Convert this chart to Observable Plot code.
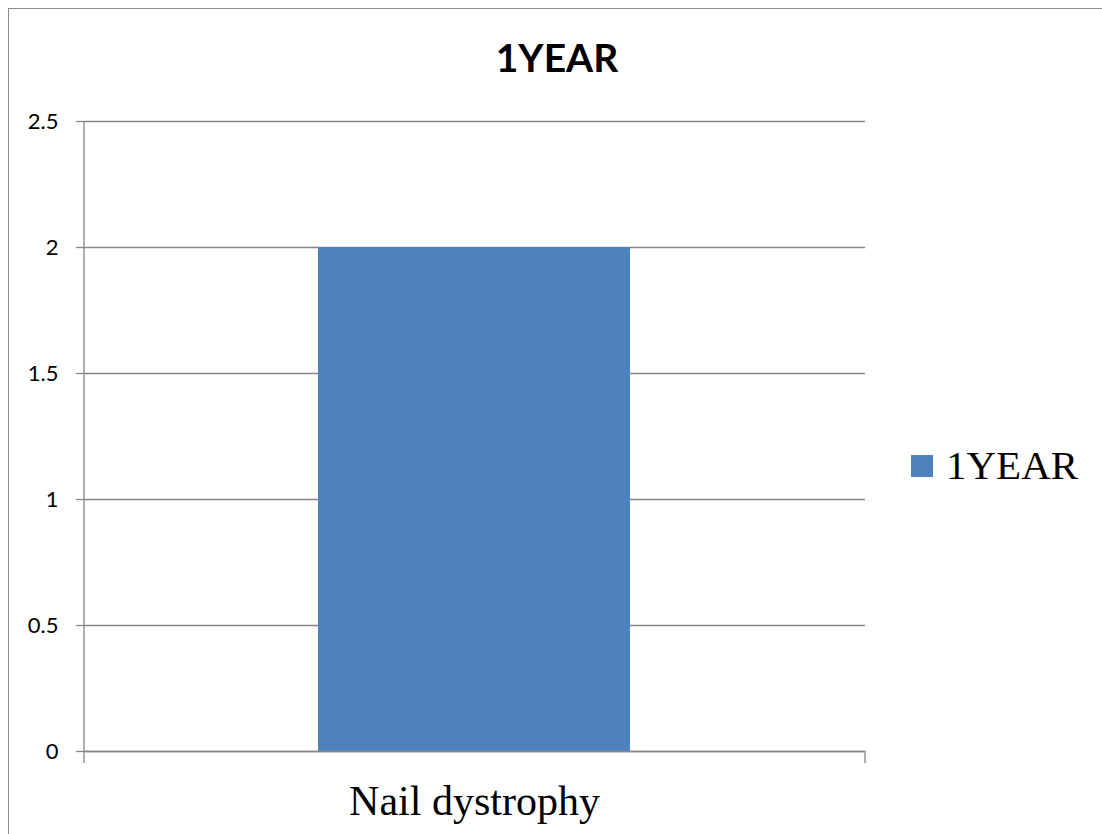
<!DOCTYPE html>
<html>
<head>
<meta charset="utf-8">
<script src="https://cdn.jsdelivr.net/npm/d3@7"></script>
<script src="https://cdn.jsdelivr.net/npm/@observablehq/plot@0.6"></script>
<style>
  html, body { margin: 0; padding: 0; background: #fff; }
  #wrap { position: relative; width: 1102px; height: 834px; overflow: hidden; background: #fff; }
  #border { position: absolute; left: 8px; top: 8px; right: -4px; bottom: -4px;
            border-left: 1.4px solid #8c8c8c; border-top: 1.4px solid #8c8c8c; }
  #title { position: absolute; left: 457px; width: 200px; top: 38px; text-align: center;
           font: bold 39px/39px Lato, "Liberation Sans", sans-serif; color: #000; }
  #legend { position: absolute; left: 911px; top: 445px; display: flex; align-items: center; gap: 13px;
            font: 41px/41px "Liberation Serif", "Times New Roman", serif; color: #000; }
  #legend .sw { width: 22px; height: 22px; }
  #chart { position: absolute; left: 0; top: 0; }
</style>
</head>
<body>
<div id="wrap">
  <div id="border"></div>
  <div id="chart"></div>
  <div id="title"></div>
  <div id="legend"></div>
</div>
<script>
// Chart data
const categories = ["Nail dystrophy"];
const values = [2];
const seriesName = "1YEAR";
const yTicks = [0, 0.5, 1, 1.5, 2, 2.5];

const barColor = "#4F81BD";
const lineColor = "#868686";
const lineWidth = 1.3;

const rows = categories.map((c, i) => ({category: c, value: values[i]}));

// Axis line on the left and category-boundary ticks below the baseline
function categoryFrame(index, scales, channels, dims) {
  const left = dims.marginLeft;
  const right = dims.width - dims.marginRight;
  const top = dims.marginTop;
  const bottom = dims.height - dims.marginBottom;
  const tick = 12;
  const g = d3.create("svg:g")
    .attr("stroke", lineColor)
    .attr("stroke-width", lineWidth);
  g.append("line").attr("x1", left).attr("x2", left).attr("y1", top).attr("y2", bottom + tick);
  g.append("line").attr("x1", right).attr("x2", right).attr("y1", bottom).attr("y2", bottom + tick);
  return g.node();
}

const chart = Plot.plot({
  width: 1102,
  height: 834,
  marginTop: 121,
  marginLeft: 84,
  marginRight: 237,
  marginBottom: 83,
  x: {domain: categories, paddingInner: 0.6, paddingOuter: 0.3, label: null},
  y: {domain: [0, 2.5], label: null},
  marks: [
    Plot.gridY(yTicks, {stroke: lineColor, strokeOpacity: 1, strokeWidth: lineWidth}),
    Plot.barY(rows, {x: "category", y: "value", fill: barColor}),
    Plot.ruleY([0], {stroke: lineColor, strokeWidth: lineWidth}),
    Plot.axisY({
      ticks: yTicks, tickSize: 8, tickPadding: 18, tickFormat: d3.format(""),
      stroke: lineColor, strokeWidth: lineWidth, strokeOpacity: 1,
      fill: "#000", fontSize: 22, fontFamily: "Lato, 'Liberation Sans', sans-serif", label: null
    }),
    Plot.axisX({
      tickSize: 0, tickPadding: 34, fill: "#000", fontSize: 42,
      fontFamily: "'Liberation Serif', 'Times New Roman', serif", label: null
    }),
    categoryFrame
  ]
});
document.getElementById("chart").appendChild(chart);

// Title and legend
document.getElementById("title").textContent = seriesName;
const legend = d3.select("#legend");
legend.append("div").attr("class", "sw").style("background", barColor);
legend.append("span").text(seriesName);
</script>
</body>
</html>
